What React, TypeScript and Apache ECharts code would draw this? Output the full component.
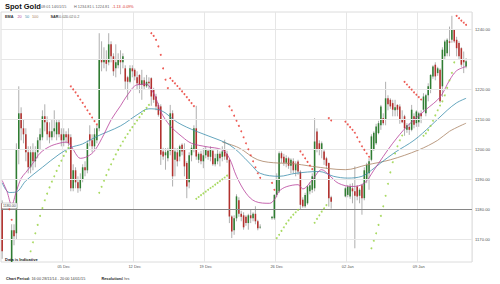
import React, { useEffect, useRef } from "react";
import * as echarts from "echarts";

// ---------- data ----------
const CATEGORY_COUNT = 199; // 4-hour bars from 16:00 28/11/14
const xTickIndex = [26, 56, 86, 116, 146, 176];
const xTickLabels = ["05 Dec", "12 Dec", "19 Dec", "26 Dec", "02 Jan", "09 Jan"];
const yGrid = [1170, 1180, 1190, 1200, 1210, 1220, 1230, 1240];
const yTickLabels = [1170, 1180, 1190, 1200, 1210, 1220, 1240]; // 1230 is hidden behind the last-price box
const lastPrice = 1229.35;
const refLevel = 1180;

// [index, open, high, low, close]
const bars: number[][] = [
  [0, 1182, 1183, 1163.5, 1166], [1, 1161, 1162, 1150, 1155], [2, 1155, 1158, 1142, 1148], [3, 1148, 1160, 1143, 1152],
  [4, 1152, 1175, 1150, 1173], [5, 1173, 1175, 1168, 1171], [6, 1172, 1202, 1170, 1200], [7, 1200, 1221, 1195, 1212],
  [8, 1212, 1214, 1203, 1207], [9, 1207, 1210, 1202, 1205], [10, 1205, 1207, 1196, 1199], [11, 1199, 1201, 1192, 1194],
  [12, 1194, 1201, 1192, 1199], [13, 1199, 1202, 1193, 1196], [14, 1196, 1201, 1194, 1199], [15, 1199, 1204, 1197, 1203],
  [16, 1203, 1207, 1200, 1205], [17, 1204, 1213, 1203, 1211], [18, 1211, 1215, 1206, 1209], [19, 1209, 1211, 1203, 1205],
  [20, 1206, 1209, 1202, 1204], [21, 1204, 1210, 1203, 1206], [22, 1206, 1213, 1204, 1207], [23, 1205, 1210, 1203, 1209],
  [24, 1209, 1210, 1204, 1205], [25, 1205, 1207, 1201, 1203], [26, 1203, 1207, 1201, 1205], [27, 1205, 1206, 1202, 1204],
  [28, 1205, 1207, 1201, 1202], [29, 1204, 1205, 1186, 1187], [30, 1187, 1195, 1186, 1193], [31, 1193, 1194, 1187, 1189],
  [32, 1189, 1191, 1185.5, 1187], [33, 1187, 1192, 1186, 1190], [34, 1190, 1195, 1189, 1194], [35, 1194, 1196, 1191, 1193],
  [36, 1193, 1203, 1192, 1202], [37, 1205, 1208, 1201, 1203], [38, 1203, 1205, 1199, 1201], [39, 1201, 1207, 1200, 1205],
  [40, 1203, 1208, 1202, 1207], [41, 1207, 1238.7, 1206, 1230], [42, 1230, 1236, 1226, 1229], [43, 1229, 1234, 1227, 1230],
  [44, 1230, 1233, 1226, 1228.5], [45, 1229, 1238.7, 1228, 1235], [46, 1235, 1236, 1229, 1231], [47, 1231, 1232, 1224.5, 1226],
  [48, 1227, 1235, 1224, 1229], [49, 1228, 1232, 1227, 1230], [50, 1230, 1233, 1225, 1229], [51, 1229, 1232, 1227, 1231],
  [52, 1227, 1228, 1219.8, 1222.6], [53, 1224, 1224.5, 1216.5, 1222.5], [54, 1222.5, 1228, 1222, 1227], [55, 1227, 1228, 1224, 1226],
  [56, 1226.5, 1227, 1223, 1224.3], [57, 1224, 1226, 1219.8, 1222], [58, 1224.8, 1225, 1218.7, 1221.5], [59, 1221.5, 1226.5, 1216.5, 1223],
  [60, 1223, 1224, 1220, 1221], [61, 1221, 1224.8, 1220.5, 1222.5], [62, 1222.5, 1224, 1220, 1222], [63, 1223.7, 1224, 1214.5, 1217.6],
  [64, 1219.8, 1220.5, 1215.5, 1216.5], [65, 1217.6, 1218.5, 1213, 1214.3], [66, 1214.8, 1215.5, 1210.9, 1211.5], [67, 1214.3, 1215, 1194.8, 1198.2],
  [68, 1199.3, 1200.5, 1196.5, 1197.6], [69, 1198, 1200.4, 1193.2, 1199], [70, 1197, 1200.5, 1196, 1199.5], [71, 1199.5, 1214.8, 1198, 1212],
  [72, 1212, 1213, 1187.6, 1191], [73, 1196.5, 1200.5, 1191, 1199.3], [74, 1199, 1200.4, 1194.3, 1196], [75, 1197.6, 1201.5, 1196, 1201],
  [76, 1201.5, 1202, 1198, 1199.3], [77, 1199.8, 1202, 1191, 1194.3], [78, 1195.4, 1196, 1183.7, 1187.6], [79, 1189, 1199, 1187, 1198],
  [80, 1198, 1201.5, 1196, 1200.5], [81, 1200, 1208, 1199, 1207], [82, 1207, 1214.5, 1196.5, 1197.6], [83, 1196.5, 1199, 1195.4, 1198.5],
  [84, 1198.5, 1199.5, 1195, 1196], [85, 1196, 1200.4, 1193.7, 1198], [86, 1198, 1201, 1197, 1200], [87, 1199.5, 1200, 1196.5, 1197.5],
  [88, 1197.5, 1201, 1196, 1200], [89, 1199.5, 1200, 1194.5, 1195], [90, 1195, 1198.5, 1194.3, 1197], [91, 1196, 1199.8, 1195, 1198.5],
  [92, 1198.5, 1199.3, 1194.3, 1197], [93, 1197.5, 1201, 1196, 1199.3], [94, 1199.8, 1203.2, 1196.5, 1197.6], [95, 1198.5, 1199.5, 1195.5, 1196.5],
  [96, 1196.5, 1197, 1175.4, 1177.6], [97, 1177.6, 1178, 1170.4, 1172.6], [98, 1173, 1178, 1171.5, 1177], [99, 1177, 1185, 1176, 1184.3],
  [100, 1183, 1184, 1177.5, 1178.5], [101, 1178.5, 1179.5, 1176, 1177.5], [102, 1178, 1179, 1173.2, 1174], [103, 1177.5, 1178, 1174.5, 1175.4],
  [104, 1175.4, 1178.5, 1173.2, 1178], [105, 1178, 1180, 1175.4, 1177], [106, 1177, 1179, 1176, 1178.5], [107, 1178.5, 1181, 1175, 1176],
  [108, 1176, 1176.5, 1173, 1173.7], [109, 1174, 1175, 1173.5, 1174.2],
  [114, 1177, 1177.8, 1176.5, 1177.5], [115, 1177, 1185, 1176.5, 1184.8], [116, 1184.8, 1192, 1184, 1190], [117, 1186, 1199.3, 1185.4, 1198.7],
  [118, 1198.7, 1199.3, 1195.5, 1197], [119, 1197.5, 1198.5, 1194.5, 1195.5], [120, 1195.5, 1198, 1194, 1197], [121, 1197, 1197.5, 1193.5, 1194.5],
  [122, 1194.5, 1197, 1192, 1196.5], [123, 1196, 1197, 1192, 1193], [124, 1193, 1196, 1191, 1195], [125, 1195.9, 1196.5, 1191.5, 1192.6],
  [126, 1192.5, 1193, 1180, 1181.5], [127, 1183.2, 1184, 1180.5, 1181], [128, 1181, 1185.5, 1180.5, 1184.8], [129, 1182, 1188, 1181.5, 1187.6],
  [130, 1186, 1189, 1185, 1188], [131, 1186.5, 1192, 1185.5, 1191], [132, 1187, 1210.4, 1186, 1202.6], [133, 1205.9, 1207, 1199, 1199.8],
  [134, 1202, 1203, 1198, 1199.8], [135, 1200, 1202.6, 1197, 1202], [136, 1199.3, 1200, 1194.8, 1196.5], [137, 1197, 1197.5, 1193.5, 1194.5],
  [138, 1195.4, 1195.6, 1180.9, 1183.7], [139, 1184, 1184.5, 1180.2, 1182.5],
  [145, 1184.3, 1187.6, 1184, 1187], [146, 1184.8, 1188, 1184, 1187.6], [147, 1184.3, 1188.5, 1183.5, 1187.6], [148, 1187, 1188.7, 1182, 1186],
  [149, 1186, 1194.3, 1167, 1184.5], [150, 1187.6, 1188, 1183, 1184.3], [151, 1184.5, 1187, 1182, 1186.5], [152, 1188, 1188.5, 1178.2, 1183.7],
  [153, 1183.7, 1194, 1183, 1193], [154, 1190, 1195.5, 1188.7, 1194.8], [155, 1192, 1197, 1186.5, 1196], [156, 1196.5, 1205, 1196, 1204.3],
  [157, 1200, 1206, 1199.5, 1205.5], [158, 1202, 1208.5, 1201.5, 1207.6], [159, 1205.4, 1209.5, 1205, 1208.7], [160, 1208, 1214.8, 1206.5, 1214.3],
  [161, 1210.4, 1212, 1208, 1208.7], [162, 1209.8, 1222.5, 1208, 1217], [163, 1217, 1218, 1213, 1215], [164, 1216.5, 1217, 1213.5, 1214.3],
  [165, 1215.4, 1216.5, 1211, 1213.2], [166, 1213, 1216.5, 1211, 1214], [167, 1214.8, 1215, 1211, 1213.2], [168, 1214.3, 1215, 1208.5, 1209.8],
  [169, 1210, 1213, 1208.7, 1209], [170, 1211, 1211.5, 1204.5, 1207], [171, 1206.5, 1208.7, 1205.5, 1208], [172, 1207.5, 1208.7, 1204.8, 1206.5],
  [173, 1206.5, 1214.8, 1206, 1213.2], [174, 1211, 1212, 1207, 1208.2], [175, 1208.7, 1213, 1207.5, 1212.6], [176, 1209, 1212.5, 1207.5, 1212],
  [177, 1212, 1213, 1208.7, 1211], [178, 1213.2, 1218.7, 1212.5, 1217.6], [179, 1212, 1218.5, 1211, 1218], [180, 1218, 1222, 1216, 1221],
  [181, 1219.8, 1225, 1218.7, 1224.8], [182, 1224.3, 1228, 1223.5, 1227.6], [183, 1228.2, 1229, 1223, 1224.3], [184, 1225.4, 1227.5, 1224.5, 1227],
  [185, 1226.5, 1227, 1215.5, 1216], [186, 1221, 1234, 1217.5, 1233.2], [187, 1231, 1236.5, 1230, 1235.9], [188, 1232, 1237, 1231, 1236.5],
  [189, 1236, 1240.9, 1231, 1235.5], [190, 1236.5, 1244.5, 1235.5, 1239.8], [191, 1239.8, 1240, 1235.5, 1236], [192, 1236.5, 1237.5, 1231, 1233.7],
  [193, 1235.4, 1236, 1230, 1231], [194, 1233.7, 1234, 1227.5, 1228.2], [195, 1230, 1232.6, 1225.4, 1229], [196, 1227.6, 1230.4, 1227, 1229.35],
];

// EMA readings [index, value]
const ema20: number[][] = [
  [0, 1189.6], [2, 1186], [4, 1181.5], [6, 1186], [8, 1190.3], [10, 1192.3], [13, 1195.4], [16, 1198.7], [20, 1200.9],
  [24, 1202], [27, 1202.4], [29, 1201.3], [31, 1198.6], [33, 1197], [36, 1197.6], [39, 1199.5], [43, 1205], [46, 1209.8],
  [50, 1214.5], [53, 1218.2], [57, 1221.5], [61, 1221.7], [63, 1220], [65, 1217], [67, 1212.5], [71, 1207.8], [76, 1204.2],
  [80, 1202], [86, 1200.9], [93, 1199.8], [96, 1197], [99, 1191], [103, 1185.4], [107, 1182.6], [113, 1182], [115, 1183.2],
  [117, 1186], [120, 1187.5], [125, 1188.2], [127, 1186.8], [131, 1189.8], [135, 1193.2], [138, 1191.5], [142, 1188.7],
  [148, 1187.6], [153, 1188.7], [157, 1193], [161, 1197.6], [165, 1202], [171, 1207.6], [179, 1213.2], [185, 1217.4],
  [189, 1223], [192, 1226.2], [196, 1227.6],
];
const ema50: number[][] = [
  [0, 1188.8], [3, 1185.6], [6, 1185.8], [10, 1189.5], [17, 1194], [24, 1198.3], [29, 1200.6], [34, 1201.8], [40, 1204.3],
  [50, 1207.8], [57, 1211.5], [62, 1213.5], [67, 1213], [74, 1209], [82, 1206], [92, 1203], [96, 1201.5], [100, 1199],
  [105, 1195], [109, 1192], [117, 1191], [124, 1192], [134, 1192.6], [140, 1191], [146, 1190.4], [152, 1191], [156, 1193],
  [160, 1195.5], [166, 1199], [174, 1203], [181, 1207.8], [188, 1213], [192, 1215.5], [196, 1217],
];
const ema100: number[][] = [
  [93, 1202.4], [100, 1200.5], [108, 1196.5], [117, 1195.4], [122, 1195.3], [131, 1194.3], [145, 1193.2], [154, 1194.8],
  [164, 1196.5], [176, 1199.8], [184, 1203], [189, 1206], [196, 1208.7],
];

// Parabolic SAR dots [index, value]
const sarAbove: number[][] = [
  [3, 1180], [4, 1176.5],
  [29, 1221], [30, 1220], [31, 1219], [32, 1217.8], [33, 1216.6], [34, 1215.5], [35, 1214.2], [36, 1213], [37, 1211.8], [38, 1210.6], [39, 1209.4], [40, 1208.3],
  [63, 1238.7], [64, 1237.8], [65, 1236.5], [66, 1234.3], [67, 1231.5], [68, 1227], [69, 1223.2], [70, 1220.4],
  [71, 1223.7], [72, 1222.8], [73, 1222], [74, 1221.1], [75, 1220.2], [76, 1219.3], [77, 1218.4], [78, 1217.4], [79, 1216.4], [80, 1215.4], [81, 1214.4],
  [96, 1214.3], [97, 1213], [98, 1211.2], [99, 1209.5], [100, 1207.8], [101, 1206], [102, 1204], [103, 1202], [104, 1200], [105, 1198], [106, 1196], [107, 1194], [108, 1192], [109, 1190.5],
  [114, 1188.8], [115, 1186.5],
  [126, 1199.3], [127, 1198.2], [128, 1197], [129, 1195.8], [130, 1194.6], [131, 1193.4],
  [138, 1210.4], [139, 1209.6], [145, 1209.2], [146, 1208.3], [147, 1207.4], [148, 1206.5], [149, 1205.5], [150, 1204], [151, 1202.5], [152, 1201], [153, 1199.8], [154, 1198.6], [155, 1197.5],
  [170, 1222.5], [171, 1221.6], [172, 1220.7], [173, 1219.9], [174, 1219], [175, 1218.2], [176, 1217.4], [177, 1216.6],
  [192, 1244.5], [193, 1243.7], [194, 1242.9], [195, 1242.2], [196, 1241.5],
];
const sarBelow: number[][] = [
  [12, 1166], [13, 1169], [14, 1172], [15, 1174.8], [16, 1177.8], [17, 1180.4], [18, 1183], [19, 1185.2], [20, 1187.3], [21, 1189.2], [22, 1191], [23, 1192.8], [24, 1194.5], [25, 1196.2], [26, 1197.8], [27, 1199.2], [28, 1200.5],
  [41, 1185.5], [42, 1187.5], [43, 1189.5], [44, 1191.4], [45, 1193.2], [46, 1195], [47, 1196.7], [48, 1198.3], [49, 1199.8], [50, 1201.2], [51, 1202.6], [52, 1203.9], [53, 1205.1], [54, 1206.3], [55, 1207.4], [56, 1208.5], [57, 1209.6], [58, 1210.7], [59, 1211.8], [60, 1212.8], [61, 1213.8], [62, 1214.8],
  [82, 1183.5], [83, 1184.1], [84, 1184.7], [85, 1185.3], [86, 1185.9], [87, 1186.5], [88, 1187.1], [89, 1187.6], [90, 1188.2], [91, 1188.8], [92, 1189.4], [93, 1190], [94, 1190.6], [95, 1191.2],
  [116, 1170.4], [117, 1171.5], [118, 1172.8], [119, 1174], [120, 1175.2], [121, 1176.3], [122, 1177.3], [123, 1178.2], [124, 1179], [125, 1179.8],
  [132, 1175.5], [133, 1176.8], [134, 1178], [135, 1179.2], [136, 1180.3], [137, 1181.4],
  [156, 1167], [157, 1169.5], [158, 1172], [159, 1174.8], [160, 1177.8], [161, 1181], [162, 1184.5], [163, 1188.5], [164, 1192.3], [165, 1195.7], [166, 1198.6], [167, 1201], [168, 1203], [169, 1204.6],
  [178, 1204.5], [179, 1205.3], [180, 1206.4], [181, 1207.8], [182, 1209.5], [183, 1211.3], [184, 1213], [185, 1214.6], [186, 1216], [187, 1218], [188, 1220.5], [189, 1223], [190, 1225.5], [191, 1229],
];

// ---------- helpers ----------
const MONTHS = ["Jan", "Feb", "Mar", "Apr", "May", "Jun", "Jul", "Aug", "Sep", "Oct", "Nov", "Dec"];
function buildCategories(count: number): string[] {
  const out: string[] = [];
  let t = Date.UTC(2014, 10, 28, 16);
  while (out.length < count) {
    const d = new Date(t);
    const wd = d.getUTCDay();
    if (wd !== 0 && wd !== 6) {
      const dd = String(d.getUTCDate()).padStart(2, "0");
      const hh = String(d.getUTCHours()).padStart(2, "0");
      out.push(`${dd} ${MONTHS[d.getUTCMonth()]} ${hh}:00`);
    }
    t += 4 * 3600 * 1000;
  }
  return out;
}

const FONT = "'Liberation Sans', Arial, sans-serif";
const C_UP = "#2f7d32";
const C_DOWN = "#b3302d";
const C_WICK = "#8c8c8c";
const C_EMA20 = "#b8409a";
const C_EMA50 = "#3d8fad";
const C_EMA100 = "#a98363";
const C_SAR_UP = "#e8322b";
const C_SAR_DN = "#93d13c";

export default function App() {
  const ref = useRef<HTMLDivElement>(null);

  useEffect(() => {
    if (!ref.current) return;
    const chart = echarts.init(ref.current, undefined, { renderer: "svg" });
    const cats = buildCategories(CATEGORY_COUNT);
    const isTick = (idx: number) => xTickIndex.indexOf(idx) >= 0;

    const txt = (x: number, y: number, text: string, size: number, fill: string, weight: string = "normal") => ({
      type: "text",
      x,
      y,
      z: 10,
      style: { text, fontSize: size, fill, fontFamily: FONT, fontWeight: weight, align: "left", verticalAlign: "middle" },
    });

    const option: any = {
      animation: false,
      backgroundColor: "#ffffff",
      grid: { left: 1, right: 28, top: 12, bottom: 22, show: true, borderColor: "#dcdcdc", borderWidth: 1, backgroundColor: "transparent" },
      xAxis: {
        type: "category",
        data: cats,
        boundaryGap: true,
        axisLine: { show: false },
        axisTick: { show: false },
        axisLabel: {
          interval: (idx: number) => isTick(idx),
          formatter: (_v: string, idx: number) => xTickLabels[xTickIndex.indexOf(idx)] ?? "",
          fontSize: 4,
          color: "#555",
          fontFamily: FONT,
          margin: 2.5,
        },
        splitLine: { show: true, interval: (idx: number) => isTick(idx), lineStyle: { color: "#e6e6e6", width: 1 } },
      },
      yAxis: {
        type: "value",
        position: "right",
        min: 1162.43,
        max: 1245.77,
        axisLine: { show: false },
        axisTick: { show: false },
        splitLine: { show: false },
        axisLabel: {
          customValues: yTickLabels,
          formatter: (v: number) => v.toFixed(2),
          fontSize: 4.2,
          color: "#555",
          fontFamily: FONT,
          margin: 3,
        },
      },
      series: [
        {
          name: "grid",
          type: "line",
          data: [],
          silent: true,
          z: 1,
          markLine: {
            silent: true,
            symbol: "none",
            label: { show: false },
            lineStyle: { color: "#e6e6e6", width: 1, type: "solid" },
            data: yGrid.map((v) => ({ yAxis: v })),
          },
        },
        {
          name: "ref",
          type: "line",
          data: [],
          silent: true,
          z: 2,
          markLine: {
            silent: true,
            symbol: "none",
            lineStyle: { color: "#7a7a7a", width: 0.9, type: "solid" },
            label: {
              show: true,
              position: "insideStartTop",
              formatter: refLevel.toFixed(2),
              fontSize: 3.6,
              color: "#444",
              fontFamily: FONT,
              backgroundColor: "#fff",
              borderColor: "#999",
              borderWidth: 0.5,
              padding: [0.5, 1],
              distance: 1,
            },
            data: [{ yAxis: refLevel }],
          },
        },
        {
          name: "candles",
          type: "custom",
          clip: true,
          z: 3,
          data: bars,
          encode: { x: 0, y: [1, 2, 3, 4] },
          renderItem: (_params: any, api: any) => {
            const i = api.value(0);
            const o = api.value(1);
            const h = api.value(2);
            const l = api.value(3);
            const c = api.value(4);
            const pO = api.coord([i, o]);
            const pC = api.coord([i, c]);
            const pH = api.coord([i, h]);
            const pL = api.coord([i, l]);
            const w = api.size([1, 0])[0] * 0.66;
            const top = Math.min(pO[1], pC[1]);
            const hgt = Math.max(Math.abs(pO[1] - pC[1]), 0.7);
            return {
              type: "group",
              children: [
                { type: "line", shape: { x1: pH[0], y1: pH[1], x2: pL[0], y2: pL[1] }, style: { stroke: C_WICK, lineWidth: 0.7 } },
                { type: "rect", shape: { x: pO[0] - w / 2, y: top, width: w, height: hgt }, style: { fill: c >= o ? C_UP : C_DOWN } },
              ],
            };
          },
        },
        { name: "EMA100", type: "line", data: ema100, showSymbol: false, smooth: 0.35, z: 4, lineStyle: { color: C_EMA100, width: 0.8 }, silent: true },
        { name: "EMA50", type: "line", data: ema50, showSymbol: false, smooth: 0.35, z: 4, lineStyle: { color: C_EMA50, width: 0.8 }, silent: true },
        { name: "EMA20", type: "line", data: ema20, showSymbol: false, smooth: 0.35, z: 4, lineStyle: { color: C_EMA20, width: 0.8 }, silent: true },
        { name: "SAR+", type: "scatter", data: sarAbove, symbolSize: 1.9, z: 5, itemStyle: { color: C_SAR_UP }, silent: true },
        { name: "SAR-", type: "scatter", data: sarBelow, symbolSize: 1.9, z: 5, itemStyle: { color: C_SAR_DN }, silent: true },
        {
          name: "last",
          type: "line",
          data: [],
          silent: true,
          z: 6,
          markLine: {
            silent: true,
            symbol: "none",
            lineStyle: { opacity: 0, width: 0 },
            label: {
              show: true,
              position: "end",
              distance: 1,
              formatter: lastPrice.toFixed(2),
              fontSize: 5,
              color: "#222",
              fontFamily: FONT,
              backgroundColor: "#fff",
              borderColor: "#333",
              borderWidth: 0.7,
              padding: [1, 1.5],
            },
            data: [{ yAxis: lastPrice }],
          },
        },
      ],
      graphic: [
        txt(5, 6.5, "Spot Gold", 7.5, "#111", "bold"),
        txt(41, 7, "08:01 14/01/15", 3.8, "#666"),
        txt(74, 7, "H 1234.81 L 1224.81", 3.8, "#666"),
        txt(112, 7, "-1.13 -0.09%", 3.8, "#d8312b"),
        txt(5, 17, "EMA", 3.8, "#333", "bold"),
        txt(17.5, 17, "20", 3.8, C_EMA20),
        txt(25, 17, "50", 3.8, C_EMA50),
        txt(32, 17, "100", 3.8, C_EMA100),
        txt(50.5, 17, "SAR", 3.8, "#333", "bold"),
        txt(59, 17, "0.02", 3.8, "#666"),
        txt(66, 17, "0.02", 3.8, "#666"),
        txt(74, 17, "0.2", 3.8, "#666"),
        txt(5, 259, "Data is Indicative", 4, "#222", "bold"),
        txt(6, 278.5, "Chart Period:", 3.8, "#222", "bold"),
        txt(31.5, 278.5, "16:00 28/11/14 - 20:00 14/01/15", 3.8, "#444"),
        txt(101.5, 278.5, "Resolution:", 3.8, "#222", "bold"),
        txt(121, 278.5, "4 hrs", 3.8, "#444"),
      ],
    };

    chart.setOption(option);
    return () => chart.dispose();
  }, []);

  return <div ref={ref} style={{ position: "fixed", left: 0, top: 0, width: 500, height: 284 }} />;
}
